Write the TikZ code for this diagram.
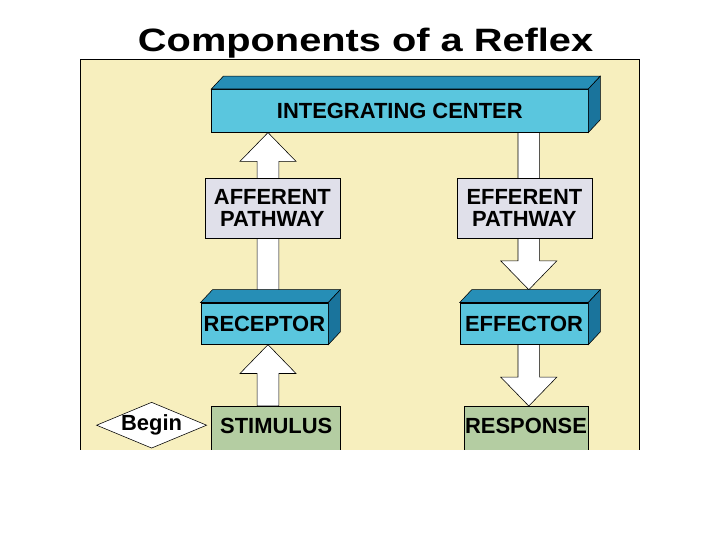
\documentclass[tikz,border=0pt]{standalone}
\usepackage{fontspec}
\setmainfont{Liberation Sans}
\usetikzlibrary{calc,shapes.geometric}

\definecolor{panelyellow}{RGB}{247,239,190}
\definecolor{slabfront}{RGB}{90,198,222}
\definecolor{slabtop}{RGB}{38,142,182}
\definecolor{slabside}{RGB}{26,116,156}
\definecolor{pathgray}{RGB}{224,224,234}
\definecolor{stimgreen}{RGB}{180,205,162}

\pgfdeclarelayer{back}
\pgfdeclarelayer{mid}
\pgfsetlayers{back,mid,main}

\newcommand\slabfont{\bfseries\fontsize{15.6}{15.6}\selectfont}
% top and side faces of a slab node
\newcommand\slabfaces[1]{%
  \filldraw[fill=slabtop] (#1.north west) -- ++(0.3,0.32) -- ($(#1.north east)+(0.3,0.32)$) -- (#1.north east) -- cycle;
  \filldraw[fill=slabside] (#1.north east) -- ++(0.3,0.32) -- ($(#1.south east)+(0.3,0.32)$) -- (#1.south east) -- cycle;}
% fat white arrow, vertical, from #1 to #2
\newcommand\blockarrow[2]{%
  \filldraw[fill=white] let \p1=(#1), \p2=(#2), \n1={sign(\y2-\y1)*0.72cm} in
    (\x1-0.27cm,\y1) -- (\x1-0.27cm,\y2-\n1) -- (\x1-0.7cm,\y2-\n1) -- (\x2,\y2)
    -- (\x1+0.7cm,\y2-\n1) -- (\x1+0.27cm,\y2-\n1) -- (\x1+0.27cm,\y1) -- cycle;}

\begin{document}
\begin{tikzpicture}[
   x=1cm,y=1cm,
   line width=0.9pt,
   slab/.style={draw,fill=slabfront,minimum height=1.04cm,inner sep=0pt,font=\slabfont},
   pathbox/.style={draw,fill=pathgray,minimum width=3.375cm,minimum height=1.5cm,inner sep=0pt,align=center,font=\slabfont},
   endbox/.style={draw,fill=stimgreen,anchor=north,inner xsep=0pt,inner ysep=0.27cm,text height=0.4cm,text depth=0.36cm,font=\slabfont},
   beginmark/.style={diamond,draw,fill=white,minimum width=2.5cm,minimum height=1.05cm,inner sep=0pt,aspect=2.4,font=\slabfont}
 ]
  \useasboundingbox (0,0) rectangle (18,13.5);
  \node[anchor=base,font=\bfseries\fontsize{23}{23}\selectfont] (title) at (9.14,12.22) {\scalebox{1.23}[1]{Components of a Reflex}};

  \begin{pgfonlayer}{back}
    \fill[panelyellow] (2,2.25) rectangle (15.975,12.025);
    \draw (2,2.25) -- (2,12.025) -- (15.975,12.025) -- (15.975,2.25);
  \end{pgfonlayer}

  \node[slab,minimum width=9.41cm,minimum height=1.075cm] (intc) at (9.995,10.73) {INTEGRATING CENTER};
  \node[pathbox] (aff) at (6.81,8.3) {AFFERENT\\PATHWAY};
  \node[pathbox] (eff) at (13.11,8.3) {EFFERENT\\PATHWAY};
  \node[slab,minimum width=3.18cm] (rec) at (6.61,5.41) {RECEPTOR};
  \node[slab,minimum width=3.2cm] (effr) at (13.1,5.41) {EFFECTOR};
  \node[beginmark] (begin) at (3.79,2.87) {Begin};
  \begin{scope}
    \clip (0,2.25) rectangle (18,13.5);
    \node[endbox,minimum width=3.225cm] (stim) at (6.905,3.35) {STIMULUS};
    \node[endbox,minimum width=3.09cm] (resp) at (13.15,3.35) {RESPONSE};
  \end{scope}
  \slabfaces{intc}
  \slabfaces{rec}
  \slabfaces{effr}

  \coordinate (affx) at (6.7,0);
  \coordinate (effx) at (13.22,0);
  \coordinate (efftop) at ($(effr.north)+(0,0.32)$);
  \begin{pgfonlayer}{mid}
    \blockarrow{affx |- stim.north}{affx |- rec.south}
    \blockarrow{affx |- rec.north}{affx |- intc.south}
    \blockarrow{effx |- intc.south}{effx |- efftop}
    \blockarrow{effx |- effr.south}{effx |- resp.north}
  \end{pgfonlayer}
 \end{tikzpicture}
\end{document}
